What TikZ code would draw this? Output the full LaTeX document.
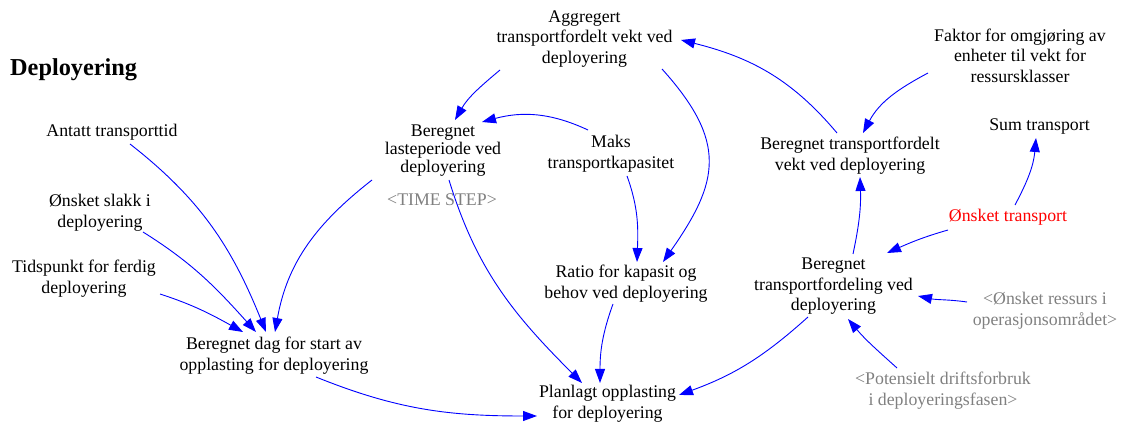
\documentclass[tikz,border=0pt]{standalone}
\usepackage{fontspec}
\setmainfont{Liberation Serif}
\usetikzlibrary{arrows.meta}
\definecolor{linkblue}{RGB}{0,0,255}
\definecolor{shadowgray}{RGB}{128,128,128}
\definecolor{hotred}{RGB}{255,0,0}
\begin{document}
\begin{tikzpicture}[x=1pt,y=1pt,
  var/.style={align=center, inner sep=0pt, font=\fontsize{17.8}{21}\selectfont, text=black},
  shadow/.style={var, text=shadowgray},
  link/.style={draw=linkblue, line width=0.9pt, -{Triangle[length=14pt,width=10pt]}},
]
\useasboundingbox (0,0) rectangle (1130,-427);

% title
\node[anchor=west, inner sep=0pt, font=\fontsize{24.3}{28}\selectfont\bfseries] (title) at (10,-70) {Deployering};

% variables
\node[var] (antatt) at (112,-132) {Antatt transporttid};
\node[var] (slakk) at (100,-212.5) {Ønsket slakk i\\deployering};
\node[var] (tidspunkt) at (84,-279) {Tidspunkt for ferdig\\deployering};
\node[var] (dag) at (274,-355.5) {Beregnet dag for start av\\opplasting for deployering};
\node[var, font=\fontsize{17.8}{18}\selectfont] (laste) at (443,-151) {Beregnet\\lasteperiode ved\\deployering};
\node[shadow] (timestep) at (442,-200) {<TIME STEP>};
\node[var, font=\fontsize{17.8}{20.5}\selectfont] (aggr) at (584.5,-39) {Aggregert\\transportfordelt vekt ved\\deployering};
\node[var] (maks) at (611,-153.5) {Maks\\transportkapasitet};
\node[var] (ratio) at (626,-283.5) {Ratio for kapasit og\\behov ved deployering};
\node[var] (plan) at (607.5,-404) {Planlagt opplasting\\for deployering};
\node[var, font=\fontsize{17.8}{20.5}\selectfont] (faktor) at (1020,-55.5) {Faktor for omgjøring av\\enheter til vekt for\\ressursklasser};
\node[var] (bvekt) at (850,-155.5) {Beregnet transportfordelt\\vekt ved deployering};
\node[var] (sum) at (1039.5,-127) {Sum transport};
\node[var, text=hotred] (onsket) at (1008,-217) {Ønsket transport};
\node[var, font=\fontsize{17.8}{20.5}\selectfont] (bford) at (833.5,-286.5) {Beregnet\\transportfordeling ved\\deployering};
\node[shadow] (ressurs) at (1045,-311) {<Ønsket ressurs i\\operasjonsområdet>};
\node[shadow] (potens) at (943,-390.5) {<Potensielt driftsforbruk\\i deployeringsfasen>};

% causal links
\draw[link] ([shift={(18,-12)}]antatt.center) to[out=-38,in=112] ([shift={(-8,23.5)}]dag.center);
\draw[link] ([shift={(43,-19.5)}]slakk.center) to[out=-32,in=132] ([shift={(-18,23.5)}]dag.center);
\draw[link] ([shift={(76,-15)}]tidspunkt.center) to[out=-18,in=151] ([shift={(-31,23.5)}]dag.center);
\draw[link] ([shift={(-71,-29)}]laste.center) to[out=218,in=80] ([shift={(1,23.5)}]dag.center);
\draw[link] ([shift={(42,-21.5)}]dag.center) to[out=-22,in=180] ([shift={(-70.5,-12)}]plan.center);
\draw[link] ([shift={(6,-29)}]laste.center) to[out=-73,in=135] ([shift={(-25.5,21)}]plan.center);
\draw[link] ([shift={(-84.5,-31)}]aggr.center) to[out=220,in=60] ([shift={(12,31)}]laste.center);
\draw[link] ([shift={(-23,23.5)}]maks.center) to[out=155,in=15] ([shift={(39,29)}]laste.center);
\draw[link] ([shift={(16,-22.5)}]maks.center) to[out=-70,in=88] ([shift={(11,21.5)}]ratio.center);
\draw[link] ([shift={(77.5,-30)}]aggr.center) to[out=-48,in=55,looseness=1.3] ([shift={(37,21.5)}]ratio.center);
\draw[link] ([shift={(-13,-20.5)}]ratio.center) to[out=-110,in=90] ([shift={(-7.5,21)}]plan.center);
\draw[link] ([shift={(-25.5,-30.5)}]bford.center) to[out=222,in=20] ([shift={(71.5,9)}]plan.center);
\draw[link] ([shift={(-13,22.5)}]bvekt.center) to[out=130,in=-14] ([shift={(96.5,-1)}]aggr.center);
\draw[link] ([shift={(-92,-17.5)}]faktor.center) to[out=208,in=62] ([shift={(13,22.5)}]bvekt.center);
\draw[link] ([shift={(19.5,32.5)}]bford.center) to[out=78,in=-88] ([shift={(10,-21.5)}]bvekt.center);
\draw[link] ([shift={(7,12)}]onsket.center) to[out=62,in=-95] ([shift={(-3.5,-11)}]sum.center);
\draw[link] ([shift={(-60,-13)}]onsket.center) to[out=196,in=24] ([shift={(53.5,33.5)}]bford.center);
\draw[link] ([shift={(-78,9)}]ressurs.center) to[out=172,in=-12] ([shift={(84.5,-9.5)}]bford.center);
\draw[link] ([shift={(-46,22.5)}]potens.center) to[out=138,in=-50] ([shift={(14.5,-32.5)}]bford.center);
\end{tikzpicture}
\end{document}
